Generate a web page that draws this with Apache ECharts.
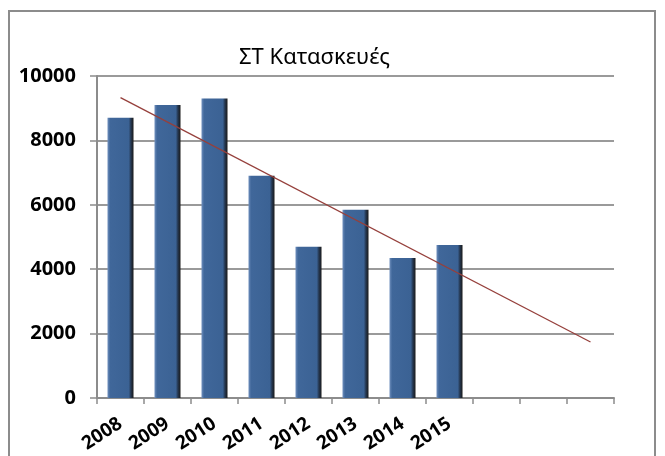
<!DOCTYPE html>
<html>
<head>
<meta charset="utf-8">
<script src="https://cdn.jsdelivr.net/npm/echarts@6/dist/echarts.min.js"></script>
<style>
  html, body { margin: 0; padding: 0; background: #fff; }
  #frame {
    position: absolute; left: 8px; top: 10px; width: 648px; height: 470px;
    border: 2px solid #8c8c8c; box-sizing: border-box;
  }
  #chart { position: absolute; left: 0; top: 0; width: 665px; height: 456px; }
</style>
</head>
<body>
<div id="frame"></div>
<div id="chart"></div>
<script>
// values
const years = ['2008', '2009', '2010', '2011', '2012', '2013', '2014', '2015']
const padding = ['', ' ', '  ']   // empty forecast slots of the trend line
const categories = years.concat(padding)
const values = [8700, 9100, 9300, 6900, 4700, 5850, 4350, 4750]
// trend line: start at first category, end at last slot
const trendStart = 9330
const trendEnd = 1740
const yTicks = [0, 2000, 4000, 6000, 8000, 10000]

const trend = categories.map((c, i) => {
  if (i === 0) return trendStart
  if (i === categories.length - 1) return trendEnd
  return null
})

const chart = echarts.init(document.getElementById('chart'), null, { renderer: 'canvas' })
chart.setOption({
  animation: false,
  backgroundColor: 'transparent',
  title: {
    text: 'ΣΤ Κατασκευές',
    left: 234,
    top: 42,
    textStyle: {
      fontFamily: 'Noto Sans',
      fontWeight: 'normal',
      fontSize: 22,
      color: '#000'
    }
  },
  grid: {
    left: 97,
    right: 51,
    top: 76,
    bottom: 58,
    containLabel: false
  },
  xAxis: {
    type: 'category',
    data: categories,
    boundaryGap: true,
    axisLine: { lineStyle: { color: '#8c8c8c', width: 2 } },
    axisTick: { show: true, alignWithLabel: false, length: 6, lineStyle: { color: '#8c8c8c', width: 1.5 } },
    axisLabel: {
      interval: 0,
      rotate: 33,
      margin: 24,
      fontFamily: 'Noto Sans',
      fontWeight: 'bold',
      fontSize: 19,
      color: '#000'
    },
    splitLine: { show: false }
  },
  yAxis: {
    type: 'value',
    min: yTicks[0],
    max: yTicks[yTicks.length - 1],
    interval: 2000,
    axisLine: { show: true, lineStyle: { color: '#8c8c8c', width: 2 } },
    axisTick: { show: true, length: 7, lineStyle: { color: '#8c8c8c', width: 1.5 } },
    axisLabel: {
      margin: 21,
      fontFamily: 'Noto Sans',
      fontWeight: 'bold',
      fontSize: 20,
      color: '#000',
      formatter: v => String(v)
    },
    splitLine: { show: true, lineStyle: { color: '#9a9a9a', width: 2 } }
  },
  series: [
    {
      name: 'ΣΤ Κατασκευές',
      type: 'bar',
      data: values,
      barWidth: 26,
      itemStyle: {
        color: new echarts.graphic.LinearGradient(0, 0, 1, 0, [
          { offset: 0, color: '#6f8fbd' },
          { offset: 0.1, color: '#40679a' },
          { offset: 0.82, color: '#3b6294' },
          { offset: 0.9, color: '#24364f' },
          { offset: 1, color: '#1a1a1a' }
        ])
      },
      z: 2
    },
    {
      name: 'trend',
      type: 'line',
      data: trend,
      connectNulls: true,
      symbol: 'none',
      lineStyle: { color: '#96403c', width: 1.3 },
      z: 3
    }
  ]
})
</script>
</body>
</html>
